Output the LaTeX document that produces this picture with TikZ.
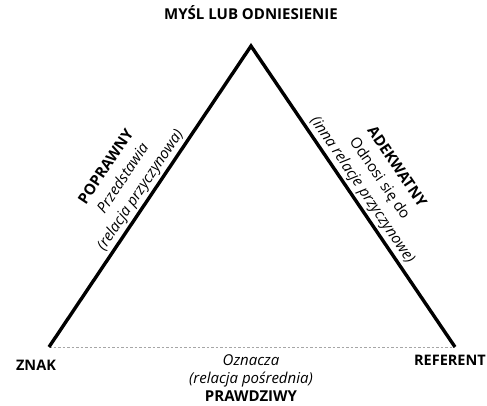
\documentclass[tikz,border=0pt]{standalone}
\usepackage{fontspec}
\setmainfont{Open Sans}
\begin{document}
\begin{tikzpicture}[x=1pt,y=1pt,line join=miter,
	bok/.style={line width=3.4pt,line cap=butt},
	kreska/.style={gray!70,line width=0.6pt,dash pattern=on 2.5pt off 2pt},
	tytul/.style={font=\fontsize{14.5}{17}\selectfont\bfseries,inner sep=0pt},
	opis/.style={font=\fontsize{15}{18}\selectfont,align=center},
	skos/.style={font=\fontsize{15}{20.5}\selectfont,align=center,sloped,above,inner sep=2pt}]
	\useasboundingbox (0,0) rectangle (487,406);
	\path
	(251,360) coordinate (M)
	(49,59) coordinate (Z)
	(455,59) coordinate (R)
	;
	\draw[kreska] (Z)--(R);
	\draw[bok] (Z) -- node[skos] (poprawny) {\textbf{POPRAWNY}\\\textit{Przedstawia}\\\textit{(relacja przyczynowa)}} (M)
	-- node[skos] (adekwatny) {\textbf{ADEKWATNY}\\Odnosi się do\\\textit{(inna relacje przyczynowe)}} (R);
	\node[tytul,font=\fontsize{15}{17}\selectfont\bfseries] (mysl) at (251,393) {MYŚL LUB ODNIESIENIE};
	\node[tytul] (znak) at (36,41) {ZNAK};
	\node[tytul,anchor=east] (referent) at (486,46) {REFERENT};
	\node[opis] (oznacza) at (251,28) {\textit{Oznacza}\\\textit{(relacja pośrednia)}\\\textbf{PRAWDZIWY}};
\end{tikzpicture}
\end{document}
